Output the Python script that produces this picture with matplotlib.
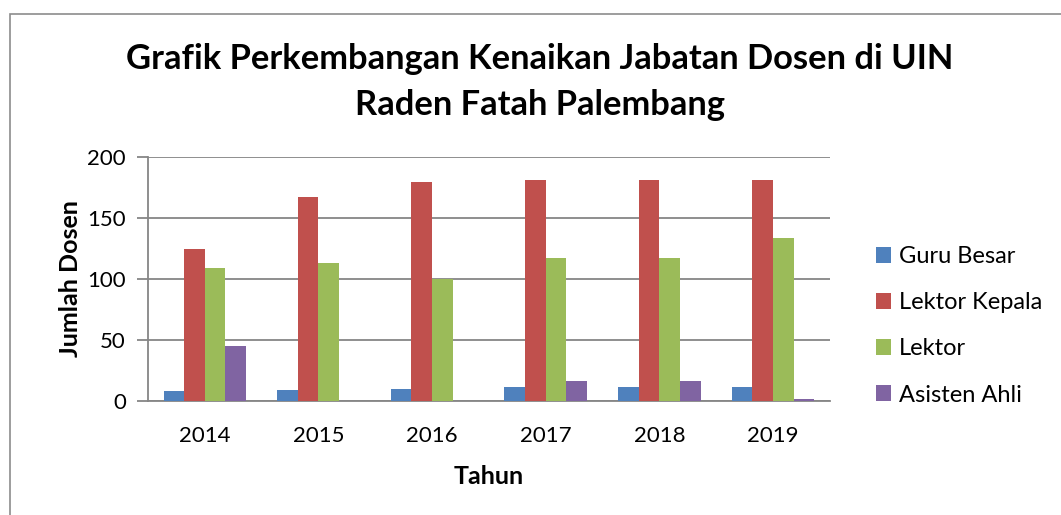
import numpy as np
import matplotlib.pyplot as plt
from matplotlib.patches import Rectangle

plt.rcParams['font.family'] = ['Lato', 'DejaVu Sans']

tahun = ['2014', '2015', '2016', '2017', '2018', '2019']
guru_besar = [8, 9, 10, 11, 11, 11]
lektor_kepala = [125, 167, 180, 181, 181, 181]
lektor = [109, 113, 100, 117, 117, 134]
asisten_ahli = [45, 0, 0, 16, 16, 1]

series = [('Guru Besar', guru_besar, '#4F81BD'),
          ('Lektor Kepala', lektor_kepala, '#C0504D'),
          ('Lektor', lektor, '#9BBB59'),
          ('Asisten Ahli', asisten_ahli, '#8064A2')]

fig = plt.figure(figsize=(10.61, 5.15), dpi=100)
# chart border (only left and top visible in the crop)
fig.patches.append(Rectangle((10 / 1061, -0.1), 1.2, 1.1 - 14 / 515,
                             transform=fig.transFigure, fill=False,
                             edgecolor='#8c8c8c', linewidth=1.2))

ax = fig.add_axes([148 / 1061, 1 - 400.7 / 515, (830 - 148) / 1061, (400.7 - 157.3) / 515])

x = np.arange(len(tahun))
w = 1 / 5.5
for i, (name, vals, col) in enumerate(series):
    ax.bar(x + (i - 1.5) * w, vals, w, color=col, label=name, zorder=3)

ax.set_xlim(-0.5, len(tahun) - 0.5)
ax.set_ylim(0, 200)
ax.set_yticks([0, 50, 100, 150, 200])
ax.set_xticks(x)
ax.set_xticklabels(tahun)
ax.yaxis.grid(True, color='#868686', linewidth=1.3, zorder=0)
for s in ['top', 'right']:
    ax.spines[s].set_visible(False)
for s in ['left', 'bottom']:
    ax.spines[s].set_color('#868686')
    ax.spines[s].set_linewidth(1.3)
ax.tick_params(axis='y', length=8, width=1.3, color='#868686', labelsize=16, pad=8)
ax.tick_params(axis='x', length=0, labelsize=16, pad=18)

ax.set_ylabel('Jumlah Dosen', fontsize=18, fontweight='bold', labelpad=4)
ax.set_xlabel('Tahun', fontsize=18, fontweight='bold', labelpad=14)

fig.text(540 / 1061, 1 - 82 / 515,
         'Grafik Perkembangan Kenaikan Jabatan Dosen di UIN\nRaden Fatah Palembang',
         ha='center', va='center', fontsize=24.8, fontweight='bold', linespacing=1.55)

ax.legend(loc='center left', bbox_to_anchor=(1.036, 0.307), frameon=False,
          fontsize=17, handlelength=0.64, handleheight=0.64, handletextpad=0.34,
          labelspacing=1.06)

fig.savefig('out.png', dpi=100)
